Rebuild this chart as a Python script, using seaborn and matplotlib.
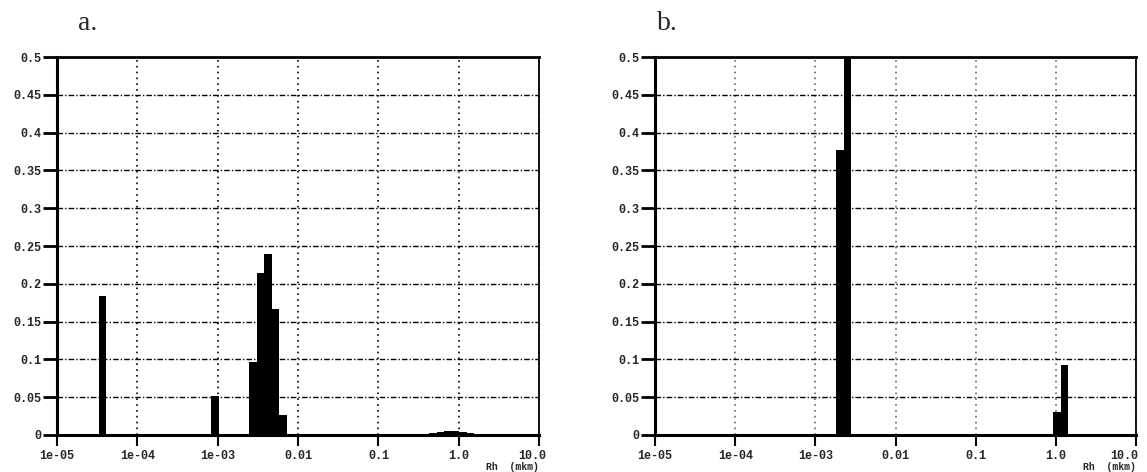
import numpy as np
import matplotlib
matplotlib.use('Agg')
import matplotlib.pyplot as plt
import matplotlib.transforms as mtransforms
import seaborn as sns

# size distributions (Rh in mkm, fraction)
rh_a = [3.7e-5, 9.5e-4, 2.7e-3, 3.3e-3, 4.1e-3, 5.2e-3, 6.4e-3,
        0.45, 0.56, 0.70, 0.87, 1.08, 1.35]
frac_a = [0.184, 0.051, 0.096, 0.214, 0.239, 0.167, 0.027,
          0.002, 0.004, 0.005, 0.005, 0.004, 0.002]

rh_b = [2.0e-3, 2.5e-3, 1.0, 1.24]
frac_b = [0.377, 0.52, 0.030, 0.093]

x_ticks = [1e-5, 1e-4, 1e-3, 1e-2, 1e-1, 1.0, 10.0]
x_labels = ['1e-05', '1e-04', '1e-03', '0.01', '0.1', '1.0', '10.0']
y_ticks = [0, 0.05, 0.1, 0.15, 0.2, 0.25, 0.3, 0.35, 0.4, 0.45, 0.5]
y_labels = ['0', '0.05', '0.1', '0.15', '0.2', '0.25', '0.3', '0.35', '0.4', '0.45', '0.5']

sns.set_style('white')
plt.rcParams['font.family'] = ['Liberation Mono', 'DejaVu Sans']

fig = plt.figure(figsize=(11.47, 4.72), dpi=100)
ax_a = fig.add_axes([0.0497, 0.0784, 0.4203, 0.8008])
ax_b = fig.add_axes([0.5711, 0.0784, 0.4194, 0.8008])

bw = 0.0935
panels = [
    (ax_a, rh_a, frac_a, (-4.48, -4.48 + 55 * bw), 'black', -7),
    (ax_b, rh_b, frac_b, (-2.743, -2.743 + 32 * bw), '0.4', -12),
]

for ax, rh, frac, brange, vcol, last_shift in panels:
    sns.histplot(x=rh, weights=frac, log_scale=True, binwidth=bw,
                 binrange=brange, color='black', alpha=1, linewidth=0,
                 ax=ax, zorder=3)
    ax.set_xlim(1e-5, 10.0)
    ax.set_ylim(0, 0.5)
    ax.set_xticks(x_ticks)
    ax.set_xticklabels(x_labels)
    ax.xaxis.set_minor_locator(matplotlib.ticker.NullLocator())
    ax.set_yticks(y_ticks)
    ax.set_yticklabels(y_labels)
    for lab in ax.get_xticklabels() + ax.get_yticklabels():
        lab.set_fontweight('bold')
        lab.set_fontsize(8.5)
    ax.tick_params(axis='y', direction='out', length=10, width=2, pad=1,
                   left=True, color='black')
    ax.tick_params(axis='x', direction='out', length=8, width=1.5, pad=3,
                   bottom=True, color='black')
    # last label sits a bit left of its tick, as in the original
    last = ax.get_xticklabels()[-1]
    last.set_transform(last.get_transform() +
                       mtransforms.ScaledTranslation(last_shift / 100, 0,
                                                     fig.dpi_scale_trans))
    ax.grid(axis='y', color='black', linestyle=(0, (4, 1.5, 1, 1.5)),
            linewidth=1.0, zorder=1)
    ax.grid(axis='x', color=vcol, linestyle=(0, (1, 2.5)), linewidth=1.2,
            zorder=1)
    ax.set_axisbelow(True)
    for side, lw in [('left', 2.2), ('bottom', 2.2), ('top', 2.0), ('right', 1.3)]:
        ax.spines[side].set_visible(True)
        ax.spines[side].set_color('black')
        ax.spines[side].set_linewidth(lw)
    ax.set_ylabel('')
    ax.set_xlabel('Rh  (mkm)', loc='right', fontsize=7, fontweight='bold',
                  labelpad=0)

fig.text(0.068, 0.951, 'a.', family='Liberation Serif', fontsize=20,
         va='center', ha='left')
fig.text(0.573, 0.951, 'b.', family='Liberation Serif', fontsize=20,
         va='center', ha='left')

fig.savefig('out.png', dpi=100)
